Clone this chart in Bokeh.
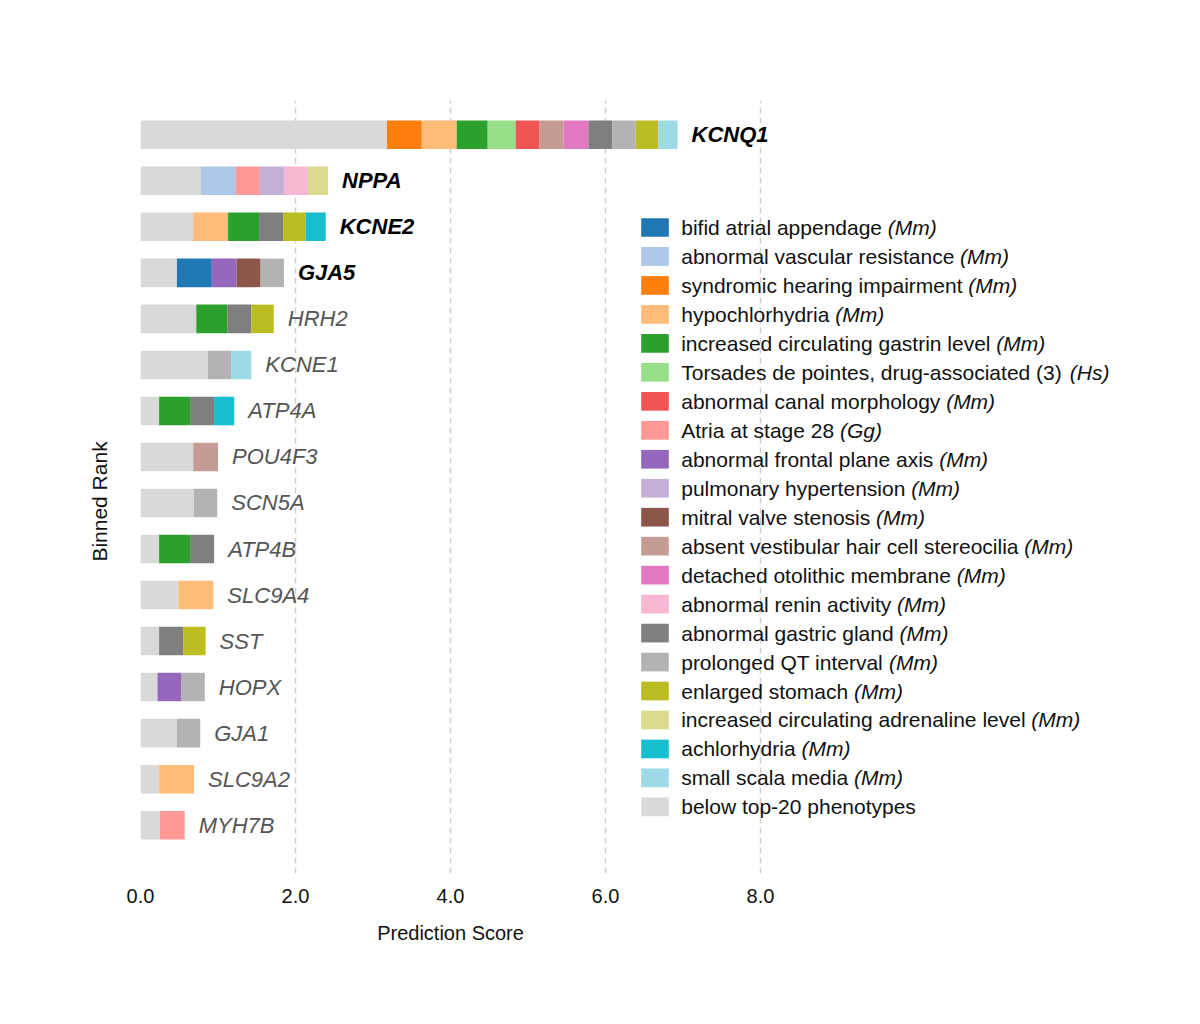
from bokeh.plotting import figure
from bokeh.models import ColumnDataSource, FixedTicker, PrintfTickFormatter, Range1d, Title
from bokeh.core.properties import value
from bokeh.embed import file_html
from bokeh.resources import INLINE

# ---------------- data ----------------
genes = ["KCNQ1", "NPPA", "KCNE2", "GJA5", "HRH2", "KCNE1", "ATP4A", "POU4F3",
         "SCN5A", "ATP4B", "SLC9A4", "SST", "HOPX", "GJA1", "SLC9A2", "MYH7B"]
known = [True, True, True, True] + [False] * 12

below_top20  = [3.18, 0.78, 0.68, 0.47, 0.72, 0.87, 0.24, 0.68, 0.69, 0.24, 0.49, 0.24, 0.22, 0.47, 0.24, 0.25]
bifid        = [0, 0, 0, 0.45, 0, 0, 0, 0, 0, 0, 0, 0, 0, 0, 0, 0]
vascular     = [0, 0.45, 0, 0, 0, 0, 0, 0, 0, 0, 0, 0, 0, 0, 0, 0]
syndromic    = [0.45, 0, 0, 0, 0, 0, 0, 0, 0, 0, 0, 0, 0, 0, 0, 0]
hypochl      = [0.45, 0, 0.45, 0, 0, 0, 0, 0, 0, 0, 0.45, 0, 0, 0, 0.45, 0]
gastrin      = [0.40, 0, 0.40, 0, 0.40, 0, 0.40, 0, 0, 0.40, 0, 0, 0, 0, 0, 0]
torsades     = [0.36, 0, 0, 0, 0, 0, 0, 0, 0, 0, 0, 0, 0, 0, 0, 0]
canal        = [0.31, 0, 0, 0, 0, 0, 0, 0, 0, 0, 0, 0, 0, 0, 0, 0]
atria        = [0, 0.31, 0, 0, 0, 0, 0, 0, 0, 0, 0, 0, 0, 0, 0, 0.32]
frontal      = [0, 0, 0, 0.32, 0, 0, 0, 0, 0, 0, 0, 0, 0.31, 0, 0, 0]
pulmonary    = [0, 0.31, 0, 0, 0, 0, 0, 0, 0, 0, 0, 0, 0, 0, 0, 0]
mitral       = [0, 0, 0, 0.31, 0, 0, 0, 0, 0, 0, 0, 0, 0, 0, 0, 0]
vestibular   = [0.31, 0, 0, 0, 0, 0, 0, 0.32, 0, 0, 0, 0, 0, 0, 0, 0]
otolithic    = [0.32, 0, 0, 0, 0, 0, 0, 0, 0, 0, 0, 0, 0, 0, 0, 0]
renin        = [0, 0.31, 0, 0, 0, 0, 0, 0, 0, 0, 0, 0, 0, 0, 0, 0]
gastric      = [0.31, 0, 0.31, 0, 0.31, 0, 0.31, 0, 0, 0.31, 0, 0.31, 0, 0, 0, 0]
qt           = [0.30, 0, 0, 0.30, 0, 0.30, 0, 0, 0.30, 0, 0, 0, 0.30, 0.30, 0, 0]
stomach      = [0.29, 0, 0.29, 0, 0.29, 0, 0, 0, 0, 0, 0, 0.29, 0, 0, 0, 0]
adrenaline   = [0, 0.26, 0, 0, 0, 0, 0, 0, 0, 0, 0, 0, 0, 0, 0, 0]
achlorhydria = [0, 0, 0.26, 0, 0, 0, 0.26, 0, 0, 0, 0, 0, 0, 0, 0, 0]
scala        = [0.25, 0, 0, 0, 0, 0.26, 0, 0, 0, 0, 0, 0, 0, 0, 0, 0]

phenotype_names = [
    "bifid atrial appendage", "abnormal vascular resistance", "syndromic hearing impairment",
    "hypochlorhydria", "increased circulating gastrin level",
    "Torsades de pointes, drug-associated (3)", "abnormal canal morphology",
    "Atria at stage 28", "abnormal frontal plane axis", "pulmonary hypertension",
    "mitral valve stenosis", "absent vestibular hair cell stereocilia",
    "detached otolithic membrane", "abnormal renin activity", "abnormal gastric gland",
    "prolonged QT interval", "enlarged stomach", "increased circulating adrenaline level",
    "achlorhydria", "small scala media", "below top-20 phenotypes"]
phenotype_species = ["(Mm)", "(Mm)", "(Mm)", "(Mm)", "(Mm)", "(Hs)", "(Mm)", "(Gg)", "(Mm)", "(Mm)",
                     "(Mm)", "(Mm)", "(Mm)", "(Mm)", "(Mm)", "(Mm)", "(Mm)", "(Mm)", "(Mm)", "(Mm)", ""]
phenotype_series = [bifid, vascular, syndromic, hypochl, gastrin, torsades, canal, atria, frontal,
                    pulmonary, mitral, vestibular, otolithic, renin, gastric, qt, stomach,
                    adrenaline, achlorhydria, scala, below_top20]
phenotype_colors = ["#1f77b4", "#aec7e8", "#ff7f0e", "#ffbb78", "#2ca02c", "#98df8a", "#ef5555",
                    "#ff9896", "#9467bd", "#c5b0d5", "#8c564b", "#c49c94", "#e377c2", "#f7b6d2",
                    "#7f7f7f", "#b3b3b3", "#bcbd22", "#dbdb8d", "#17becf", "#9edae5", "#d9d9d9"]

x_ticks = [0, 2, 4, 6, 8]

# ---------------- layout / style ----------------
FONT = "Liberation Sans"
PX_PER_UNIT = 77.5
FRAME_W, FRAME_H = 990, 773
LEFT, TOP = 140, 100
BAR_H = 0.62
LABEL_SIZE = 22
LEG_SIZE = 21
LEG_X_SW = 514.5      # swatch centre, px from frame left
LEG_SW_W, LEG_SW_H = 27.6, 18.7
LEG_X_TXT = 540.7
LEG_TOP = 646         # first row centre, px from frame bottom
LEG_ROW = 28.97

# Arial / Liberation Sans advance widths (1/1000 em)
_W = {' ': 278, '(': 333, ')': 333, ',': 278, '-': 333, '.': 278,
      'A': 667, 'B': 667, 'C': 722, 'D': 722, 'E': 667, 'F': 611, 'G': 778, 'H': 722, 'I': 278,
      'J': 500, 'K': 667, 'L': 556, 'M': 833, 'N': 722, 'O': 778, 'P': 667, 'Q': 778, 'R': 722,
      'S': 667, 'T': 611, 'U': 722, 'V': 667, 'W': 944, 'X': 667, 'Y': 667, 'Z': 611,
      'a': 556, 'b': 556, 'c': 500, 'd': 556, 'e': 556, 'f': 278, 'g': 556, 'h': 556, 'i': 222,
      'j': 222, 'k': 500, 'l': 222, 'm': 833, 'n': 556, 'o': 556, 'p': 556, 'q': 556, 'r': 333,
      's': 500, 't': 278, 'u': 556, 'v': 500, 'w': 722, 'x': 500, 'y': 500, 'z': 500}
for _d in "0123456789":
    _W[_d] = 556


def text_width(s, size):
    return sum(_W.get(c, 556) for c in s) * size / 1000.0


n = len(genes)
ypos = [n - 1 - i for i in range(n)]

# stack order: below-top-20 first, then legend order
stack_keys = ["s%d" % k for k in range(len(phenotype_series))]
order = [len(phenotype_series) - 1] + list(range(len(phenotype_series) - 1))
src = dict(y=ypos, gene=genes)
for k in range(len(phenotype_series)):
    src[stack_keys[k]] = phenotype_series[k]
source = ColumnDataSource(src)

totals = [sum(s[i] for s in phenotype_series) for i in range(n)]

p = figure(frame_width=FRAME_W, frame_height=FRAME_H,
           x_range=Range1d(0, FRAME_W / PX_PER_UNIT), y_range=Range1d(-1.05, n - 1 + 0.745),
           min_border_left=LEFT, min_border_right=1192 - LEFT - FRAME_W, min_border_top=TOP,
           min_border_bottom=140, output_backend="svg", toolbar_location=None)
p.extra_x_ranges = {"lx": Range1d(0, FRAME_W)}
p.extra_y_ranges = {"ly": Range1d(0, FRAME_H)}

p.hbar_stack([stack_keys[k] for k in order], y="y", height=BAR_H,
             fill_color=[phenotype_colors[k] for k in order], line_color=None, source=source)

# gene labels
kn = ColumnDataSource(dict(x=[totals[i] for i in range(n) if known[i]],
                           y=[ypos[i] for i in range(n) if known[i]],
                           t=[genes[i] for i in range(n) if known[i]]))
unk = ColumnDataSource(dict(x=[totals[i] for i in range(n) if not known[i]],
                            y=[ypos[i] for i in range(n) if not known[i]],
                            t=[genes[i] for i in range(n) if not known[i]]))
p.text(x="x", y="y", text="t", source=kn, x_offset=14, text_baseline="middle",
       text_font=value(FONT), text_font_size="%dpx" % LABEL_SIZE, text_font_style="bold italic",
       text_color="#000000")
p.text(x="x", y="y", text="t", source=unk, x_offset=14, text_baseline="middle",
       text_font=value(FONT), text_font_size="%dpx" % LABEL_SIZE, text_font_style="italic",
       text_color="#555555")

# manual legend (mixed upright / italic text)
m = len(phenotype_names)
ly = [LEG_TOP - r * LEG_ROW for r in range(m)]
p.rect(x=[LEG_X_SW] * m, y=ly, width=LEG_SW_W, height=LEG_SW_H, fill_color=phenotype_colors,
       line_color=None, x_range_name="lx", y_range_name="ly")
p.text(x=[LEG_X_TXT] * m, y=ly, text=phenotype_names, text_baseline="middle",
       text_font=value(FONT), text_font_size="%dpx" % LEG_SIZE, text_color="#111111",
       x_range_name="lx", y_range_name="ly")
sx = [LEG_X_TXT + text_width(nm + " ", LEG_SIZE) for nm in phenotype_names]
p.text(x=sx, y=ly, text=phenotype_species, text_baseline="middle",
       text_font=value(FONT), text_font_size="%dpx" % LEG_SIZE, text_font_style="italic",
       text_color="#111111", x_range_name="lx", y_range_name="ly")

# axes
p.xaxis.ticker = FixedTicker(ticks=x_ticks)
p.xaxis.formatter = PrintfTickFormatter(format="%.1f")
p.xaxis.axis_line_color = None
p.xaxis.major_tick_line_color = None
p.xaxis.minor_tick_line_color = None
p.xaxis.major_label_text_font = FONT
p.xaxis.major_label_text_font_size = "20px"
p.xaxis.major_label_text_color = "#111111"
p.xaxis.major_label_standoff = 9

p.yaxis.visible = False

XT_SIZE = 20
xtitle = "Prediction Score"
p.add_layout(Title(text=xtitle, align="left",
                   offset=4 * PX_PER_UNIT - text_width(xtitle, XT_SIZE) / 2,
                   standoff=28, text_font=FONT, text_font_size="%dpx" % XT_SIZE,
                   text_font_style="normal", text_color="#111111"), "below")
YT_SIZE = 21
ytitle = "Binned Rank"
p.add_layout(Title(text=ytitle, align="left",
                   offset=(FRAME_H + TOP - 501) - text_width(ytitle, YT_SIZE) / 2,
                   standoff=60, text_font=FONT, text_font_size="%dpx" % YT_SIZE,
                   text_font_style="normal", text_color="#111111"), "left")

p.xgrid.ticker = FixedTicker(ticks=x_ticks)
p.xgrid.grid_line_color = "#d0d0d0"
p.xgrid.grid_line_width = 1.5
p.xgrid.grid_line_dash = "6 4"
p.ygrid.grid_line_color = None
p.outline_line_color = None
p.background_fill_color = "white"
p.border_fill_color = "white"

open("out.html", "w").write(file_html(p, INLINE))
